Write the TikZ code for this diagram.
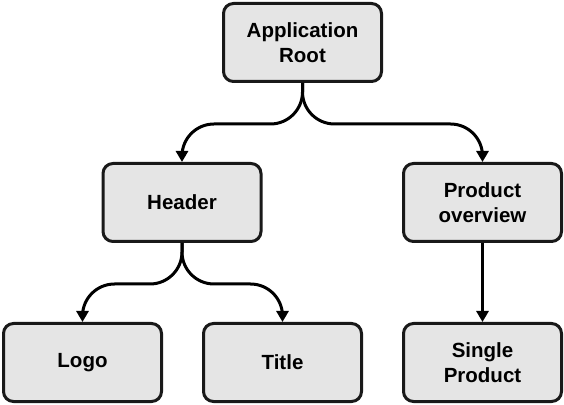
\documentclass[tikz,border=0pt]{standalone}
\usepackage{fontspec}
\setmainfont{Liberation Sans}
\usetikzlibrary{arrows.meta}
\tikzset{
	compbox/.style={draw=black!90, fill=black!10, line width=3pt, rounded corners=10pt,
		minimum width=158pt, minimum height=78pt, inner sep=0pt, align=center,
		font=\fontsize{20.5}{25}\selectfont\bfseries},
	link/.style={line width=3pt, rounded corners=32pt, -{Triangle[length=11pt,width=12pt]}}
}
\begin{document}
\begin{tikzpicture}[x=1pt,y=1pt]
		\useasboundingbox (0,0) rectangle (564,404);
		
		% top level
		\node[compbox] (root) at (302.5, 361.5) {Application\\Root};
		
		% second level
		\node[compbox] (header) at (182, 201.5) {Header};
		\node[compbox] (overview) at (482.5, 201.5) {Product\\overview};
		
		% leaves
		\node[compbox] (logo) at (82.5, 41.5) {Logo};
		\node[compbox] (title) at (282.5, 41.5) {Title};
		\node[compbox] (single) at (482.5, 41.5) {Single\\Product};
		
		% links
		\draw[link] (root.south) -- ++(0,-41) -| (header.north);
		\draw[link] (root.south) -- ++(0,-41) -| (overview.north);
		\draw[link] (header.south) -- ++(0,-41) -| (logo.north);
		\draw[link] (header.south) -- ++(0,-41) -| (title.north);
		\draw[link] (overview.south) -- (single.north);
		
	\end{tikzpicture}
\end{document}
